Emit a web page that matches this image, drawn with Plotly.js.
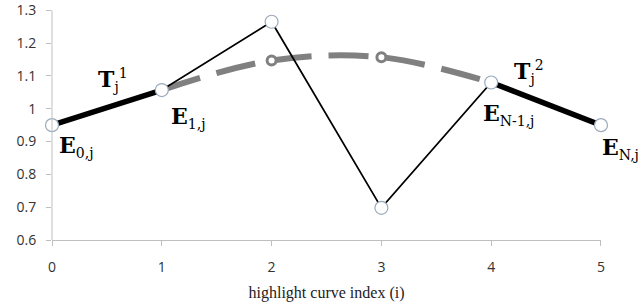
<!DOCTYPE html>
<html><head><meta charset="utf-8">
<script src="https://cdn.plot.ly/plotly-3.0.1.min.js"></script>
<style>html,body{margin:0;padding:0;background:#fff}#chart{width:640px;height:308px}</style>
</head><body><div id="chart"></div>
<script>
const xIndex = [0, 1, 2, 3, 4, 5];
const highlightValues = [0.95, 1.057, 1.265, 0.698, 1.08, 0.95];
const smoothX = [1, 2, 3, 4];
const smoothValues = [1.057, 1.147, 1.157, 1.08];
const tangent1X = [0, 1];
const tangent1Y = [0.95, 1.057];
const tangent2X = [4, 5];
const tangent2Y = [1.08, 0.95];
const yTicks = [0.6, 0.7, 0.8, 0.9, 1, 1.1, 1.2, 1.3];
const yTickText = ['0.6', '0.7', '0.8', '0.9', '1', '1.1', '1.2', '1.3'];
const sub = s => '<span style="font-size:14px">' + s + '</span>';
const labels = [
  {x: 0, y: 0.95, text: '<b>E</b><sub>' + sub('0,j') + '</sub>', dx: 24, dy: 21},
  {x: 1, y: 1.057, text: '<b>E</b><sub>' + sub('1,j') + '</sub>', dx: 26, dy: 27},
  {x: 0.5, y: 1.0, text: '<b>T</b><sub>' + sub('j') + '</sub><sup>' + sub('1') + '</sup>', dx: 6, dy: -29},
  {x: 4, y: 1.08, text: '<b>E</b><sub>' + sub('N-1,j') + '</sub>', dx: 17, dy: 32},
  {x: 4.5, y: 1.0, text: '<b>T</b><sub>' + sub('j') + '</sub><sup>' + sub('2') + '</sup>', dx: -17, dy: -37},
  {x: 5, y: 0.95, text: '<b>E</b><sub>' + sub('N,j') + '</sub>', dx: 20, dy: 23}
];

const traces = [
  {x: smoothX, y: smoothValues, mode: 'lines+markers', type: 'scatter', cliponaxis: false,
   line: {color: '#808080', width: 6, dash: '40px,17px', shape: 'spline'},
   marker: {size: 9, color: '#ffffff', line: {color: '#808080', width: 3}}},
  {x: xIndex, y: highlightValues, mode: 'lines', type: 'scatter', cliponaxis: false,
   line: {color: '#000000', width: 1.8}},
  {x: tangent1X, y: tangent1Y, mode: 'lines', type: 'scatter', cliponaxis: false,
   line: {color: '#000000', width: 5.5}},
  {x: tangent2X, y: tangent2Y, mode: 'lines', type: 'scatter', cliponaxis: false,
   line: {color: '#000000', width: 5.5}},
  {x: xIndex, y: highlightValues, mode: 'markers', type: 'scatter', cliponaxis: false,
   marker: {size: 13, color: '#ffffff', line: {color: '#9aaabb', width: 1.2}}}
];

const layout = {
  width: 640, height: 308,
  margin: {l: 52, r: 39, t: 7, b: 68},
  paper_bgcolor: '#ffffff', plot_bgcolor: '#ffffff',
  showlegend: false,
  font: {family: 'Open Sans, Liberation Sans, sans-serif', color: '#333333', size: 13},
  xaxis: {
    range: [0, 5.0001], tickmode: 'array', tickvals: xIndex, ticktext: xIndex.map(String),
    showgrid: false, zeroline: false, showline: true, linecolor: '#bfbfbf', linewidth: 1,
    ticks: 'outside', ticklen: 5, tickcolor: '#bfbfbf', ticklabelstandoff: 9,
    tickfont: {size: 14, color: '#333333'},
    title: {text: 'highlight curve index (i)', standoff: 12,
            font: {family: 'Liberation Serif, Times New Roman, serif', size: 16, color: '#222222'}}
  },
  yaxis: {
    range: [0.6, 1.31], tickmode: 'array', tickvals: yTicks, ticktext: yTickText,
    showgrid: false, zeroline: false, showline: false,
    ticks: 'outside', ticklen: 5, tickcolor: '#bfbfbf', ticklabelstandoff: 7,
    tickfont: {size: 14, color: '#333333'}
  },
  shapes: [{type: 'line', xref: 'paper', yref: 'y', x0: 0, x1: 0, y0: 0.6, y1: 1.3,
            line: {color: '#bfbfbf', width: 1}}],
  annotations: labels.map(l => ({
    x: l.x, y: l.y, xref: 'x', yref: 'y', text: l.text, showarrow: false,
    xshift: l.dx, yshift: -l.dy,
    font: {family: 'DejaVu Serif, serif', size: 22, color: '#000000'}
  }))
};

Plotly.newPlot('chart', traces, layout, {displayModeBar: false, staticPlot: true});
</script></body></html>
